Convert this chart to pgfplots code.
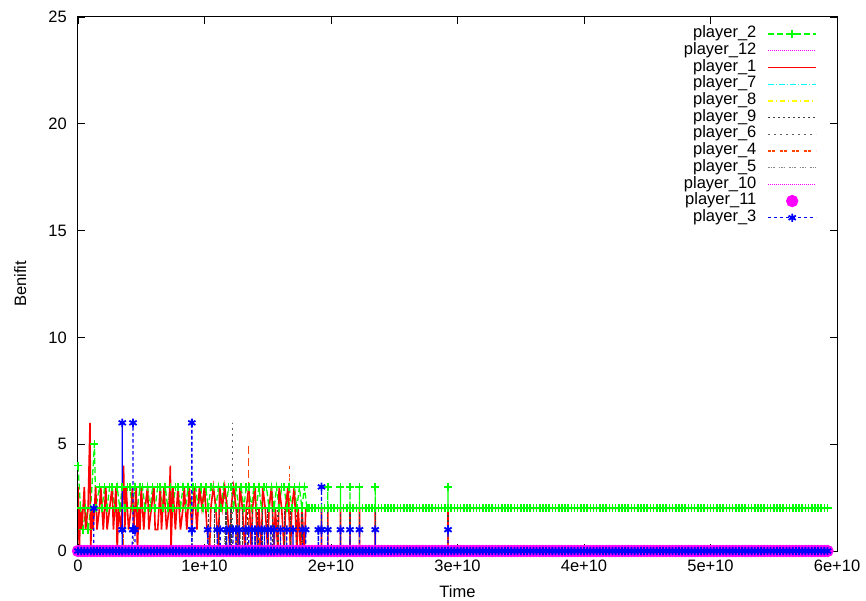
\documentclass[border=0pt]{standalone}
\usepackage{fontspec}
\setmainfont{Liberation Sans}
\usepackage{pgfplots}
\pgfplotsset{compat=1.18}

\definecolor{pgreen}{HTML}{00FF00}
\definecolor{pmag}{HTML}{FF00FF}
\definecolor{pred}{HTML}{FF0000}
\definecolor{pcyan}{HTML}{00FFFF}
\definecolor{pyellow}{HTML}{FFFF00}
\definecolor{pdark}{HTML}{404040}
\definecolor{pgray}{HTML}{606060}
\definecolor{porange}{HTML}{FF4500}
\definecolor{plight}{HTML}{888888}
\definecolor{pblue}{HTML}{0000FF}

\begin{document}
\fontsize{16.5}{19.8}\selectfont
\begin{tikzpicture}
\path[use as bounding box] (-78pt,-49pt) rectangle (788pt,551pt);
\begin{axis}[
  scale only axis, width=759pt, height=534pt,
  xmin=0, xmax=6, ymin=0, ymax=25,
  xtick={0,1,2,3,4,5,6},
  xticklabels={0,1e+10,2e+10,3e+10,4e+10,5e+10,6e+10},
  ytick={0,5,10,15,20,25},
  tick align=inside, major tick length=7pt,
  every tick/.style={black, line width=0.9pt},
  axis line style={line width=1pt},
  axis on top, clip=false,
  /pgf/number format/assume math mode=true,
  tick label style={font=\fontsize{16.5}{19.8}\selectfont},
  xticklabel style={inner sep=0pt, yshift=-9pt},
  yticklabel style={inner sep=0pt, xshift=-11pt},
  xlabel={Time}, ylabel={Benifit},
  label style={font=\fontsize{16.5}{19.8}\selectfont},
  xlabel style={at={(axis description cs:0.5,-0.088)}, anchor=base},
  ylabel style={at={(axis description cs:-0.0685,0.5)}, anchor=base},
  every axis plot/.append style={line width=1.3pt},
  legend plot pos=right,
  legend cell align=right,
  legend image code/.code={\draw[mark repeat=2,mark phase=2,#1] plot coordinates {(0pt,0pt)(24pt,0pt)(48pt,0pt)};},
  legend style={draw=none, fill=none, at={(rel axis cs:1,1)}, anchor=north east,
    xshift=-20pt, yshift=-8.7pt, inner sep=0pt, outer sep=0pt,
    row sep=0pt, column sep=11pt,
    nodes={inner sep=0pt, text height=12pt, text depth=4.7pt},
    font=\fontsize{16.5}{19.8}\selectfont},
]
% player_2
\addplot[color=pgreen, dash pattern=on 6pt off 3pt, mark=+, mark size=4pt, mark options={solid, line width=1.6pt}] coordinates {
(0,4)(0.02,2)(0.04,1)(0.06,2)(0.08,1)(0.10,2)(0.13,5)(0.14,2)(0.17,3)(0.19,2)(0.21,3)(0.23,2)(0.25,3)(0.27,3)(0.29,2)(0.31,3)(0.33,2)(0.35,3)(0.37,2)(0.39,3)(0.41,3)(0.43,2)(0.45,3)(0.47,2)(0.49,3)(0.51,3)(0.53,2)(0.55,3)(0.57,2)(0.59,3)(0.61,2)(0.63,3)(0.65,3)(0.67,2)(0.69,3)(0.71,2)(0.73,3)(0.75,2)(0.77,3)(0.79,3)(0.81,2)(0.83,3)(0.85,2)(0.87,3)(0.89,2)(0.91,3)(0.93,3)(0.95,2)(0.97,3)(0.99,2)(1.01,3)(1.03,2)(1.05,3)(1.07,3)(1.09,2)(1.11,3)(1.13,2)(1.15,3)(1.17,2)(1.19,3)(1.21,3)(1.23,2)(1.25,3)(1.27,2)(1.29,3)(1.31,2)(1.33,3)(1.35,3)(1.37,2)(1.39,3)(1.41,2)(1.43,3)(1.45,2)(1.47,3)(1.49,3)(1.51,2)(1.53,3)(1.55,2)(1.57,3)(1.59,2)(1.61,3)(1.63,3)(1.65,2)(1.67,3)(1.69,2)(1.71,3)(1.73,2)(1.75,3)(1.77,2)(1.79,3)(1.81,2)
(1.825,2)(1.85,2)(1.875,2)(1.9,2)(1.925,2)(1.95,2)(1.975,2)(1.975,3)(1.975,2)
(2,2)(2.025,2)(2.05,2)(2.075,2)(2.075,3)(2.075,2)(2.1,2)(2.125,2)(2.15,2)(2.15,3)(2.15,2)(2.175,2)(2.2,2)(2.225,2)(2.225,3)(2.225,2)(2.25,2)(2.275,2)(2.3,2)(2.325,2)(2.35,2)(2.35,3)(2.35,2)(2.375,2)(2.4,2)(2.425,2)(2.45,2)(2.475,2)
(2.5,2)(2.525,2)(2.55,2)(2.575,2)(2.6,2)(2.625,2)(2.65,2)(2.675,2)(2.7,2)(2.725,2)(2.75,2)(2.775,2)(2.8,2)(2.825,2)(2.85,2)(2.875,2)(2.9,2)(2.925,2)(2.925,3)(2.925,2)(2.95,2)(2.975,2)
(3,2)(3.025,2)(3.05,2)(3.075,2)(3.1,2)(3.125,2)(3.15,2)(3.175,2)(3.2,2)(3.225,2)(3.25,2)(3.275,2)(3.3,2)(3.325,2)(3.35,2)(3.375,2)(3.4,2)(3.425,2)(3.45,2)(3.475,2)
(3.5,2)(3.525,2)(3.55,2)(3.575,2)(3.6,2)(3.625,2)(3.65,2)(3.675,2)(3.7,2)(3.725,2)(3.75,2)(3.775,2)(3.8,2)(3.825,2)(3.85,2)(3.875,2)(3.9,2)(3.925,2)(3.95,2)(3.975,2)
(4,2)(4.025,2)(4.05,2)(4.075,2)(4.1,2)(4.125,2)(4.15,2)(4.175,2)(4.2,2)(4.225,2)(4.25,2)(4.275,2)(4.3,2)(4.325,2)(4.35,2)(4.375,2)(4.4,2)(4.425,2)(4.45,2)(4.475,2)
(4.5,2)(4.525,2)(4.55,2)(4.575,2)(4.6,2)(4.625,2)(4.65,2)(4.675,2)(4.7,2)(4.725,2)(4.75,2)(4.775,2)(4.8,2)(4.825,2)(4.85,2)(4.875,2)(4.9,2)(4.925,2)(4.95,2)(4.975,2)
(5,2)(5.025,2)(5.05,2)(5.075,2)(5.1,2)(5.125,2)(5.15,2)(5.175,2)(5.2,2)(5.225,2)(5.25,2)(5.275,2)(5.3,2)(5.325,2)(5.35,2)(5.375,2)(5.4,2)(5.425,2)(5.45,2)(5.475,2)
(5.5,2)(5.525,2)(5.55,2)(5.575,2)(5.6,2)(5.625,2)(5.65,2)(5.675,2)(5.7,2)(5.725,2)(5.75,2)(5.775,2)(5.8,2)(5.825,2)(5.85,2)(5.875,2)(5.9,2)(5.925,2)
};
\addlegendentry{player\_2}
% player_12
\addplot[color=pmag, dash pattern=on 1pt off 1pt] coordinates {(0,0)(5.93,0)};
\addlegendentry{player\_12}
% player_1
\addplot[color=pred, line width=1.6pt] coordinates {
(0,3)(0.01,0)(0.02,2)(0.03,1)(0.05,3)(0.06,1)(0.08,2)(0.095,6)(0.10,0)(0.11,2)(0.12,1)(0.14,3)(0.15,1)(0.17,2)(0.18,3)(0.20,1)(0.22,3)(0.23,1)(0.25,2)(0.27,3)(0.28,1)(0.30,3)(0.31,0)(0.32,2)(0.34,1)(0.36,4)(0.37,1)(0.38,3)(0.40,1)(0.42,2)(0.43,3)(0.44,1)(0.46,3)(0.47,0)(0.48,2)(0.49,1)(0.50,3)(0.52,1)(0.53,2)(0.55,3)(0.56,1)(0.58,2)(0.60,3)(0.61,1)(0.63,1)(0.65,3)(0.66,1)(0.68,3)(0.70,1)(0.72,2)(0.73,4)(0.735,0)(0.75,3)(0.77,1)(0.79,3)(0.81,1)(0.83,2)(0.84,3)(0.86,1)(0.88,3)(0.90,1)(0.92,3)(0.94,1)(0.96,3)(0.98,2)(1.00,3)(1.02,1)(1.04,0)(1.05,2)(1.07,3)(1.09,2)(1.11,0)(1.12,3)(1.14,2)(1.16,3)(1.18,2)(1.20,0)(1.21,2)(1.23,3)(1.25,2)(1.27,0)(1.28,3)(1.30,2)(1.32,0)(1.33,2)(1.35,3)(1.37,0)(1.38,2)(1.40,3)(1.42,0)(1.43,2)(1.45,0)(1.46,3)(1.48,2)(1.50,0)(1.51,2)(1.53,3)(1.55,0)(1.56,2)(1.58,0)(1.59,3)(1.61,2)(1.63,0)(1.64,2)(1.66,3)(1.68,0)(1.69,2)(1.71,3)(1.73,0)(1.74,2)(1.76,0)(1.77,2)(1.79,0)(1.80,2)
(1.925,2)(1.925,0)(1.925,2)(1.975,2)(1.975,0)(1.975,2)(2.075,2)(2.075,0)(2.075,2)(2.15,2)(2.15,0)(2.15,2)(2.225,2)(2.225,0)(2.225,2)(2.35,2)(2.35,0)(2.35,2)(2.925,2)(2.925,0)(2.925,2)(5.925,2)
};
\addlegendentry{player\_1}
% player_7
\addplot[color=pcyan, dash pattern=on 6pt off 2pt on 1pt off 2pt] coordinates {(0,0)(5.93,0)};
\addlegendentry{player\_7}
% player_8
\addplot[color=pyellow, dash pattern=on 5pt off 3pt on 1pt off 3pt] coordinates {(0,0)(5.93,0)};
\addlegendentry{player\_8}
% player_9
\addplot[color=pdark, dash pattern=on 2pt off 3pt] coordinates {
(0,0)(1.03,0)(1.03,2)(1.03,0)(1.08,0)(1.08,2)(1.08,0)(1.12,0)(1.12,2)(1.12,0)(1.17,0)(1.17,2)(1.17,0)(1.21,0)(1.21,2)(1.21,0)(1.26,0)(1.26,2)(1.26,0)(1.30,0)(1.30,2)(1.30,0)(1.34,0)(1.34,2)(1.34,0)(1.38,0)(1.38,2)(1.38,0)(1.42,0)(1.42,2)(1.42,0)(1.46,0)(1.46,2)(1.46,0)(1.50,0)(1.50,2)(1.50,0)(1.54,0)(1.54,2)(1.54,0)(1.58,0)(1.58,2)(1.58,0)(1.63,0)(1.63,2)(1.63,0)(1.68,0)(1.68,2)(1.68,0)(1.73,0)(1.73,2)(1.73,0)(1.77,0)(1.77,2)(1.77,0)(1.925,0)(1.925,2)(1.925,0)(1.975,0)(1.975,2)(1.975,0)(2.075,0)(2.075,2)(2.075,0)(2.15,0)(2.15,2)(2.15,0)(2.225,0)(2.225,2)(2.225,0)(2.35,0)(2.35,2)(2.35,0)(2.925,0)(2.925,2)(2.925,0)(5.93,0)
};
\addlegendentry{player\_9}
% player_6
\addplot[color=pgray, dash pattern=on 2pt off 4pt] coordinates {
(0,0)(1.12,0)(1.12,1)(1.12,0)(1.22,0)(1.22,6)(1.22,0)(1.40,0)(1.40,1)(1.40,0)(1.60,0)(1.60,1)(1.60,0)(5.93,0)
};
\addlegendentry{player\_6}
% player_4
\addplot[color=porange, dash pattern=on 3pt off 1pt on 3pt off 5pt] coordinates {
(0,0)(0.36,0)(0.36,1)(0.36,0)(1.10,0)(1.10,1)(1.10,0)(1.25,0)(1.25,1)(1.25,0)(1.35,0)(1.35,5)(1.35,0)(1.43,0)(1.43,1)(1.43,0)(1.55,0)(1.55,1)(1.55,0)(1.67,0)(1.67,4)(1.67,0)(1.77,0)(1.77,1)(1.77,0)(2.15,0)(2.15,1)(2.15,0)(2.925,0)(2.925,1)(2.925,0)(5.93,0)
};
\addlegendentry{player\_4}
% player_5
\addplot[color=plight, dash pattern=on 1.5pt off 1pt on 1.5pt off 1pt on 1.5pt off 4pt] coordinates {
(0,0)(0.44,0)(0.44,1)(0.44,0)(0.90,0)(0.90,1)(0.90,0)(1.03,0)(1.03,1)(1.03,0)(1.16,0)(1.16,1)(1.16,0)(1.28,0)(1.28,1)(1.28,0)(1.40,0)(1.40,1)(1.40,0)(1.52,0)(1.52,1)(1.52,0)(1.65,0)(1.65,1)(1.65,0)(1.80,0)(1.80,1)(1.80,0)(1.975,0)(1.975,1)(1.975,0)(2.225,0)(2.225,1)(2.225,0)(5.93,0)
};
\addlegendentry{player\_5}
% player_10
\addplot[color=pmag, dash pattern=on 1pt off 1pt] coordinates {(0,0)(5.93,0)};
\addlegendentry{player\_10}
% player_11
\addplot[color=pmag, only marks, mark=*, mark size=5.5pt] coordinates {
(0,0)(0.025,0)(0.05,0)(0.075,0)(0.1,0)(0.125,0)(0.15,0)(0.175,0)(0.2,0)(0.225,0)(0.25,0)(0.275,0)(0.3,0)(0.325,0)(0.35,0)(0.375,0)(0.4,0)(0.425,0)(0.45,0)(0.475,0)
(0.5,0)(0.525,0)(0.55,0)(0.575,0)(0.6,0)(0.625,0)(0.65,0)(0.675,0)(0.7,0)(0.725,0)(0.75,0)(0.775,0)(0.8,0)(0.825,0)(0.85,0)(0.875,0)(0.9,0)(0.925,0)(0.95,0)(0.975,0)
(1,0)(1.025,0)(1.05,0)(1.075,0)(1.1,0)(1.125,0)(1.15,0)(1.175,0)(1.2,0)(1.225,0)(1.25,0)(1.275,0)(1.3,0)(1.325,0)(1.35,0)(1.375,0)(1.4,0)(1.425,0)(1.45,0)(1.475,0)
(1.5,0)(1.525,0)(1.55,0)(1.575,0)(1.6,0)(1.625,0)(1.65,0)(1.675,0)(1.7,0)(1.725,0)(1.75,0)(1.775,0)(1.8,0)(1.825,0)(1.85,0)(1.875,0)(1.9,0)(1.925,0)(1.95,0)(1.975,0)
(2,0)(2.025,0)(2.05,0)(2.075,0)(2.1,0)(2.125,0)(2.15,0)(2.175,0)(2.2,0)(2.225,0)(2.25,0)(2.275,0)(2.3,0)(2.325,0)(2.35,0)(2.375,0)(2.4,0)(2.425,0)(2.45,0)(2.475,0)
(2.5,0)(2.525,0)(2.55,0)(2.575,0)(2.6,0)(2.625,0)(2.65,0)(2.675,0)(2.7,0)(2.725,0)(2.75,0)(2.775,0)(2.8,0)(2.825,0)(2.85,0)(2.875,0)(2.9,0)(2.925,0)(2.95,0)(2.975,0)
(3,0)(3.025,0)(3.05,0)(3.075,0)(3.1,0)(3.125,0)(3.15,0)(3.175,0)(3.2,0)(3.225,0)(3.25,0)(3.275,0)(3.3,0)(3.325,0)(3.35,0)(3.375,0)(3.4,0)(3.425,0)(3.45,0)(3.475,0)
(3.5,0)(3.525,0)(3.55,0)(3.575,0)(3.6,0)(3.625,0)(3.65,0)(3.675,0)(3.7,0)(3.725,0)(3.75,0)(3.775,0)(3.8,0)(3.825,0)(3.85,0)(3.875,0)(3.9,0)(3.925,0)(3.95,0)(3.975,0)
(4,0)(4.025,0)(4.05,0)(4.075,0)(4.1,0)(4.125,0)(4.15,0)(4.175,0)(4.2,0)(4.225,0)(4.25,0)(4.275,0)(4.3,0)(4.325,0)(4.35,0)(4.375,0)(4.4,0)(4.425,0)(4.45,0)(4.475,0)
(4.5,0)(4.525,0)(4.55,0)(4.575,0)(4.6,0)(4.625,0)(4.65,0)(4.675,0)(4.7,0)(4.725,0)(4.75,0)(4.775,0)(4.8,0)(4.825,0)(4.85,0)(4.875,0)(4.9,0)(4.925,0)(4.95,0)(4.975,0)
(5,0)(5.025,0)(5.05,0)(5.075,0)(5.1,0)(5.125,0)(5.15,0)(5.175,0)(5.2,0)(5.225,0)(5.25,0)(5.275,0)(5.3,0)(5.325,0)(5.35,0)(5.375,0)(5.4,0)(5.425,0)(5.45,0)(5.475,0)
(5.5,0)(5.525,0)(5.55,0)(5.575,0)(5.6,0)(5.625,0)(5.65,0)(5.675,0)(5.7,0)(5.725,0)(5.75,0)(5.775,0)(5.8,0)(5.825,0)(5.85,0)(5.875,0)(5.9,0)(5.925,0)
};
\addlegendentry{player\_11}
% player_3
\addplot[color=pblue, dash pattern=on 3pt off 3pt, mark=asterisk, mark size=4.2pt, mark options={solid, line width=1.8pt}] coordinates {
(0,0)(0.025,0)(0.05,0)(0.075,0)(0.1,0)(0.125,0)(0.125,2)(0.125,0)(0.15,0)(0.175,0)(0.2,0)(0.225,0)(0.25,0)(0.275,0)(0.3,0)(0.325,0)(0.35,0)(0.35,1)(0.35,6)(0.35,1)(0.35,0)(0.375,0)(0.4,0)(0.425,0)(0.435,1)(0.435,6)(0.435,1)(0.45,1)(0.45,0)(0.475,0)
(0.5,0)(0.525,0)(0.55,0)(0.575,0)(0.6,0)(0.625,0)(0.65,0)(0.675,0)(0.7,0)(0.725,0)(0.75,0)(0.775,0)(0.8,0)(0.825,0)(0.85,0)(0.875,0)(0.9,0)(0.9,1)(0.9,6)(0.9,1)(0.9,0)(0.925,0)(0.95,0)(0.975,0)
(1,0)(1.025,0)(1.025,1)(1.025,0)(1.05,0)(1.075,0)(1.1,0)(1.1,1)(1.1,0)(1.125,0)(1.125,1)(1.125,0)(1.15,0)(1.175,0)(1.175,1)(1.175,0)(1.2,0)(1.2,1)(1.2,0)(1.225,0)(1.225,1)(1.225,0)(1.25,0)(1.25,1)(1.25,0)(1.275,0)(1.275,1)(1.275,0)(1.3,0)(1.325,0)(1.325,1)(1.325,0)(1.35,0)(1.35,1)(1.35,0)(1.375,0)(1.375,1)(1.375,0)(1.4,0)(1.4,1)(1.4,0)(1.425,0)(1.425,1)(1.425,0)(1.45,0)(1.45,1)(1.45,0)(1.475,0)(1.475,1)(1.475,0)
(1.5,0)(1.5,1)(1.5,0)(1.525,0)(1.525,1)(1.525,0)(1.55,0)(1.55,1)(1.55,0)(1.575,0)(1.6,0)(1.6,1)(1.6,0)(1.625,0)(1.65,0)(1.65,1)(1.65,0)(1.675,0)(1.7,0)(1.7,1)(1.7,0)(1.725,0)(1.75,0)(1.775,0)(1.775,1)(1.775,0)(1.8,0)(1.8,1)(1.8,0)(1.825,0)(1.85,0)(1.875,0)(1.9,0)(1.9,1)(1.9,0)(1.925,0)(1.925,1)(1.925,3)(1.925,1)(1.925,0)(1.95,0)(1.975,0)(1.975,1)(1.975,0)
(2,0)(2.025,0)(2.05,0)(2.075,0)(2.075,1)(2.075,0)(2.1,0)(2.125,0)(2.15,0)(2.15,1)(2.15,0)(2.175,0)(2.2,0)(2.225,0)(2.225,1)(2.225,0)(2.25,0)(2.275,0)(2.3,0)(2.325,0)(2.35,0)(2.35,1)(2.35,0)(2.375,0)(2.4,0)(2.425,0)(2.45,0)(2.475,0)
(2.5,0)(2.525,0)(2.55,0)(2.575,0)(2.6,0)(2.625,0)(2.65,0)(2.675,0)(2.7,0)(2.725,0)(2.75,0)(2.775,0)(2.8,0)(2.825,0)(2.85,0)(2.875,0)(2.9,0)(2.925,0)(2.925,1)(2.925,0)(2.95,0)(2.975,0)
(3,0)(3.025,0)(3.05,0)(3.075,0)(3.1,0)(3.125,0)(3.15,0)(3.175,0)(3.2,0)(3.225,0)(3.25,0)(3.275,0)(3.3,0)(3.325,0)(3.35,0)(3.375,0)(3.4,0)(3.425,0)(3.45,0)(3.475,0)
(3.5,0)(3.525,0)(3.55,0)(3.575,0)(3.6,0)(3.625,0)(3.65,0)(3.675,0)(3.7,0)(3.725,0)(3.75,0)(3.775,0)(3.8,0)(3.825,0)(3.85,0)(3.875,0)(3.9,0)(3.925,0)(3.95,0)(3.975,0)
(4,0)(4.025,0)(4.05,0)(4.075,0)(4.1,0)(4.125,0)(4.15,0)(4.175,0)(4.2,0)(4.225,0)(4.25,0)(4.275,0)(4.3,0)(4.325,0)(4.35,0)(4.375,0)(4.4,0)(4.425,0)(4.45,0)(4.475,0)
(4.5,0)(4.525,0)(4.55,0)(4.575,0)(4.6,0)(4.625,0)(4.65,0)(4.675,0)(4.7,0)(4.725,0)(4.75,0)(4.775,0)(4.8,0)(4.825,0)(4.85,0)(4.875,0)(4.9,0)(4.925,0)(4.95,0)(4.975,0)
(5,0)(5.025,0)(5.05,0)(5.075,0)(5.1,0)(5.125,0)(5.15,0)(5.175,0)(5.2,0)(5.225,0)(5.25,0)(5.275,0)(5.3,0)(5.325,0)(5.35,0)(5.375,0)(5.4,0)(5.425,0)(5.45,0)(5.475,0)
(5.5,0)(5.525,0)(5.55,0)(5.575,0)(5.6,0)(5.625,0)(5.65,0)(5.675,0)(5.7,0)(5.725,0)(5.75,0)(5.775,0)(5.8,0)(5.825,0)(5.85,0)(5.875,0)(5.9,0)(5.925,0)
};
\addlegendentry{player\_3}
\end{axis}
\end{tikzpicture}
\end{document}
